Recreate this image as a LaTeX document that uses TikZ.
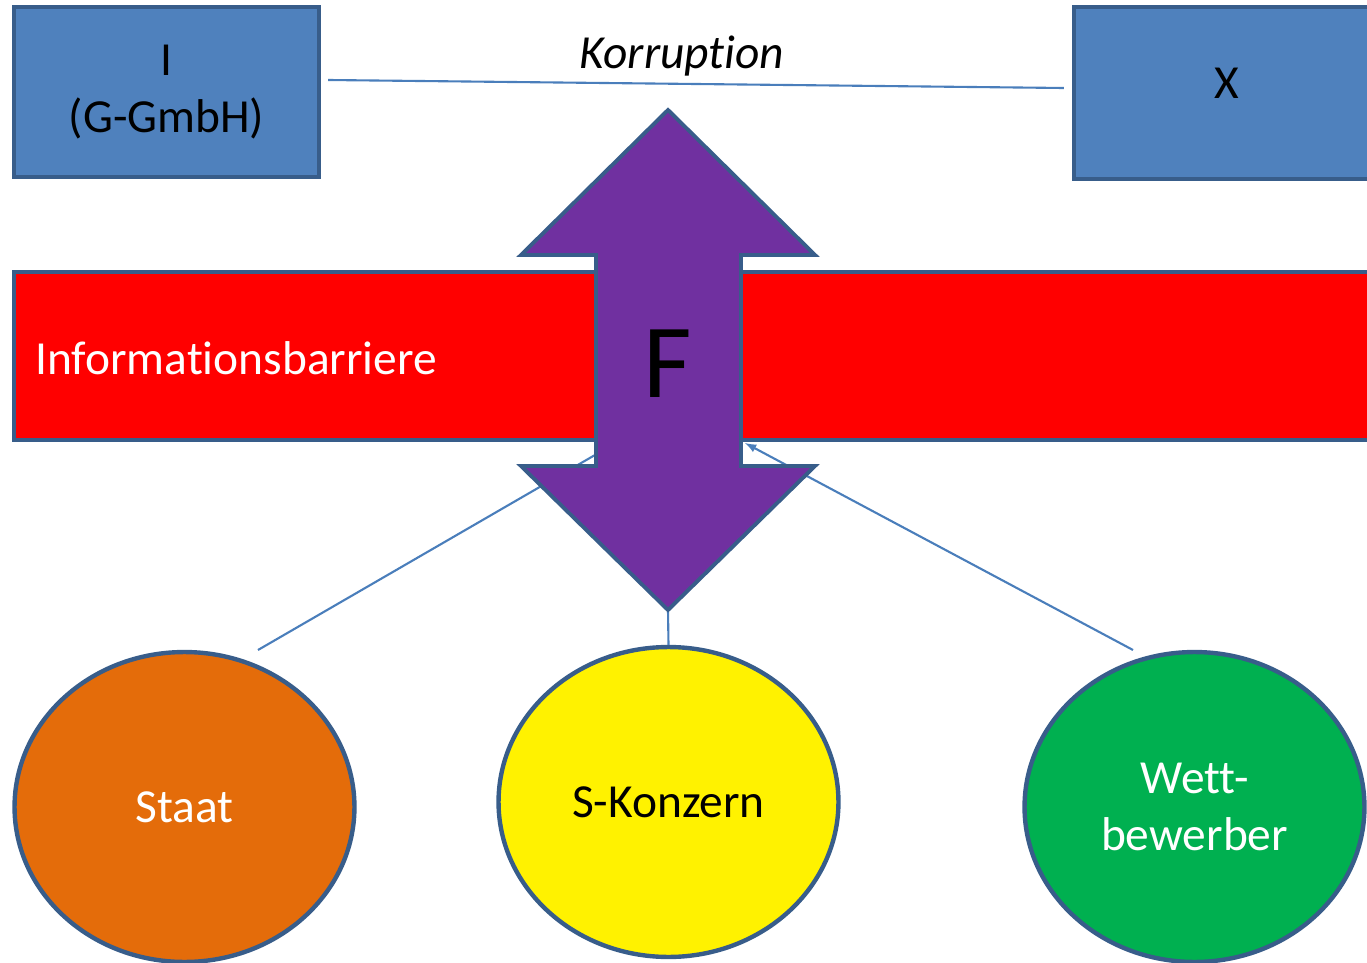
\documentclass[tikz,border=0pt]{standalone}
\usepackage{fontspec}
\setmainfont{Carlito}[Ligatures=NoCommon]
\usetikzlibrary{shapes.geometric}

\definecolor{edgeblue}{HTML}{385D8A}
\definecolor{boxblue}{HTML}{4F81BD}
\definecolor{lineblue}{HTML}{4A7EBB}
\definecolor{fpurple}{HTML}{7030A0}
\definecolor{staatorange}{HTML}{E46C0A}
\definecolor{wettgreen}{HTML}{00B050}

\begin{document}
\begin{tikzpicture}[x=0.02cm, y=-0.02cm, >=latex, font=\fontsize{27}{32}\selectfont,
    party/.style={draw=edgeblue, line width=2.5pt, fill=boxblue, align=center, inner sep=0pt},
    bubble/.style={ellipse, draw=edgeblue, line width=2.5pt, minimum width=6.8cm,
                   minimum height=6.2cm, inner sep=0pt, align=center},
    conn/.style={draw=lineblue, line width=1.2pt}]
    \useasboundingbox (0,0) rectangle (1367,963);

    % Unternehmen oben
    \node[party, minimum width=6.1cm, minimum height=3.4cm] (gmbh) at (166.5,92) {I\\(G-GmbH)};
    \node[party, minimum width=6.12cm, minimum height=3.44cm] (xbox) at (1227,93) {\raisebox{11.4pt}{X}};
    \draw[conn] ([shift={(7,-12)}]gmbh.east) -- ([shift={(-8,-5)}]xbox.west);
    \node[font=\fontsize{27}{32}\selectfont\itshape] (korr) at (682,56) {Korruption};

    % Barriere
    \node[draw=edgeblue, line width=2.5pt, fill=red, minimum width=27.32cm,
          minimum height=3.36cm, inner sep=0pt] (barrier) at (697,356) {};
    \node[white, anchor=west] (barrtext) at (29,358) {Informationsbarriere};

    % Beteiligte unten
    \node[bubble, fill=staatorange, text=white] (staat) at (184.5,807) {Staat};
    \node[bubble, fill=yellow] (konzern) at (668.5,802) {S-Konzern};
    \node[bubble, fill=wettgreen, text=white] (wett) at (1194.5,807) {Wett-\\bewerber};

    \coordinate (ftop) at (668,110);
    \coordinate (fbottom) at (668,610);
    \coordinate (shaftleft) at (595,455);
    \coordinate (shaftright) at (745,443);
    \coordinate (staatout) at (258,650);
    \coordinate (wettout) at (1133,650);

    \draw[conn] (staatout) -- (shaftleft);
    \draw[conn, ->] (wettout) -- (shaftright);
    \draw[conn] (fbottom) -- (konzern.north);

    % Doppelpfeil F
    \draw[draw=edgeblue, line width=2.2pt, fill=fpurple] (ftop) -- (815,255) -- (741,255)
        -- (741,466) -- (815,466) -- (fbottom) -- (521,466) -- (596,466) -- (596,255)
        -- (521,255) -- cycle;
    \node[font=\fontsize{60}{60}\selectfont] (f) at (668,364) {F};
\end{tikzpicture}
\end{document}
